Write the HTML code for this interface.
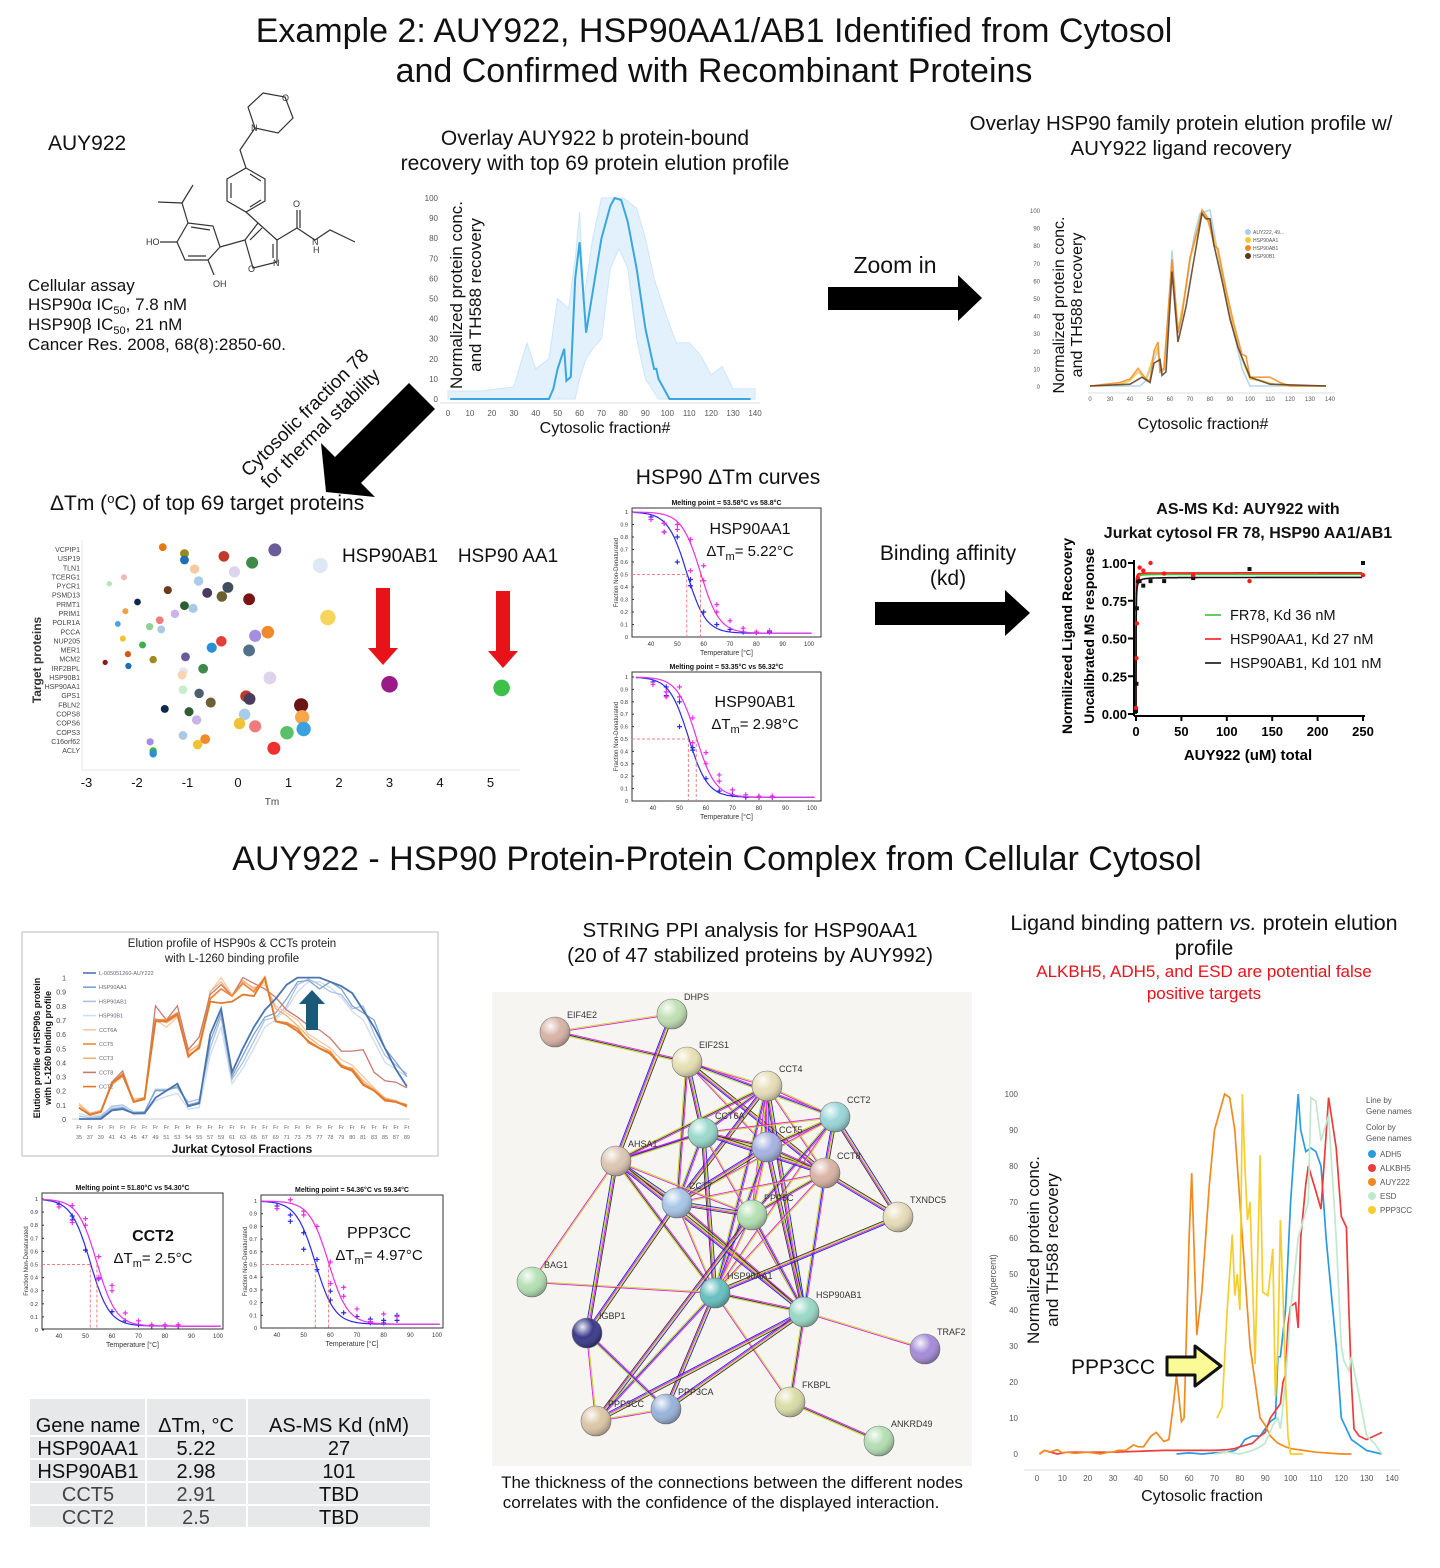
<!DOCTYPE html>
<html><head><meta charset="utf-8"><title>AUY922 HSP90 example</title>
<style>
html,body{margin:0;padding:0;background:#fff;}
svg{display:block;font-family:"Liberation Sans",sans-serif;}
</style></head>
<body>
<svg id="root" width="1440" height="1568" viewBox="0 0 1440 1568" xmlns="http://www.w3.org/2000/svg">
<defs>
<radialGradient id="ball" cx="35%" cy="30%" r="70%"><stop offset="0" stop-color="#fff" stop-opacity="0.9"/><stop offset="0.5" stop-color="#fff" stop-opacity="0"/><stop offset="1" stop-color="#000" stop-opacity="0.25"/></radialGradient>
</defs>
<g font-size="34" text-anchor="middle" fill="#111">
<text x="714" y="42">Example 2: AUY922, HSP90AA1/AB1 Identified from Cytosol</text>
<text x="714" y="82">and Confirmed with Recombinant Proteins</text>
</g>
<text x="717" y="870" font-size="34" text-anchor="middle" fill="#111">AUY922 - HSP90 Protein-Protein Complex from Cellular Cytosol</text>

<text x="48" y="150" font-size="21" fill="#111">AUY922</text>
<g stroke="#333" stroke-width="1.2" fill="none">
<polygon points="263,93 285,97 293,118 278,133 255,128 248,107"/>
<polyline points="255,128 240,150 246,168"/>
<polygon points="246,168 265,179 265,201 246,212 227,201 227,179"/>
<line x1="250" y1="174" x2="261" y2="181"/><line x1="231" y1="183" x2="231" y2="198"/><line x1="250" y1="207" x2="261" y2="200"/>
<polyline points="246,212 258,223 277,240 277,262 253,268 245,240 258,223"/>
<line x1="262" y1="228" x2="250" y2="240"/><line x1="273" y1="244" x2="273" y2="258"/>
<polyline points="277,240 297,228 315,240 330,230 355,242"/>
<line x1="297" y1="228" x2="297" y2="210"/><line x1="300" y1="228" x2="300" y2="210"/>
<polyline points="245,240 220,247 213,226 188,223 177,242 185,260 208,260 220,247"/>
<line x1="210" y1="230" x2="191" y2="227"/><line x1="188" y1="256" x2="206" y2="256"/>
<polyline points="188,223 182,203 158,202"/><line x1="182" y1="203" x2="193" y2="185"/>
<line x1="177" y1="242" x2="160" y2="242"/><line x1="208" y1="260" x2="214" y2="275"/>
</g>
<g font-size="9" fill="#333">
<text x="282" y="101">O</text><text x="251" y="131">N</text><text x="293" y="207">O</text><text x="312" y="245">N</text><text x="313" y="253">H</text>
<text x="273" y="266">N</text><text x="248" y="272">O</text><text x="146" y="245">HO</text><text x="213" y="287">OH</text>
</g>
<g font-size="17" fill="#111">
<text x="28" y="291">Cellular assay</text>
<text x="28" y="310">HSP90α IC<tspan font-size="11" dy="4">50</tspan><tspan dy="-4">, 7.8 nM</tspan></text>
<text x="28" y="330">HSP90β IC<tspan font-size="11" dy="4">50</tspan><tspan dy="-4">, 21 nM</tspan></text>
<text x="28" y="350">Cancer Res. 2008, 68(8):2850-60.</text>
</g>

<g font-size="21" text-anchor="middle" fill="#111">
<text x="595" y="145">Overlay AUY922 b protein-bound</text>
<text x="595" y="170">recovery with top 69 protein elution profile</text>
</g>
<g id="ov"></g>

<g font-size="20.5" text-anchor="middle" fill="#111">
<text x="1181" y="130">Overlay HSP90 family protein elution profile w/</text>
<text x="1181" y="155">AUY922 ligand recovery</text>
</g>
<g id="hv"></g>

<text x="895" y="273" font-size="23" text-anchor="middle" fill="#111">Zoom in</text>
<polygon points="828,287 958,287 958,275 982,298 958,321 958,310 828,310" fill="#000"/>
<polygon points="427,393 437,403 363,477 377,491 328,486 323,437 337,451 411,377" fill="#000" transform="translate(-2,6)"/>
<g transform="translate(312,420) rotate(-45)" font-size="19" text-anchor="middle" fill="#111">
<text x="0" y="-4">Cytosolic fraction 78</text><text x="0" y="18">for thermal stability</text>
</g>
<g font-size="21" text-anchor="middle" fill="#111">
<text x="948" y="560">Binding affinity</text><text x="948" y="585">(kd)</text>
</g>
<polygon points="875,602 1005,602 1005,590 1030,613 1005,636 1005,625 875,625" fill="#000"/>

<text x="50" y="510" font-size="21" fill="#111">ΔTm (<tspan font-size="13" dy="-7">o</tspan><tspan dy="7">C) of top 69 target proteins</tspan></text>
<g id="sc"></g>
<g font-size="19" fill="#111">
<text x="390" y="562" text-anchor="middle">HSP90AB1</text><text x="508" y="562" text-anchor="middle">HSP90 AA1</text>
</g>
<polygon points="376,588 390,588 390,648 398,648 383,665 368,648 376,648" fill="#e8121b"/>
<polygon points="496,591 510,591 510,651 518,651 503,668 488,651 496,651" fill="#e8121b"/>

<text x="728" y="484" font-size="21" text-anchor="middle" fill="#111">HSP90 ΔTm curves</text>
<g id="m1"></g>
<g id="m2"></g>
<g id="m3"></g>
<g id="m4"></g>

<g font-size="16" font-weight="bold" text-anchor="middle" fill="#111">
<text x="1248" y="514">AS-MS Kd:    AUY922 with</text><text x="1248" y="538">Jurkat cytosol FR 78, HSP90 AA1/AB1</text>
</g>
<g id="kd"></g>

<g id="el"></g>

<g font-size="20" fill="#111" text-anchor="middle">
<rect x="30" y="1399" width="400" height="128" fill="#e7e8ea"/>
<g stroke="#fff" stroke-width="2">
<line x1="146" y1="1399" x2="146" y2="1527"/><line x1="247" y1="1399" x2="247" y2="1527"/>
<line x1="30" y1="1436" x2="430" y2="1436"/><line x1="30" y1="1459" x2="430" y2="1459"/><line x1="30" y1="1482" x2="430" y2="1482"/><line x1="30" y1="1505" x2="430" y2="1505"/>
</g>
<text x="88" y="1432">Gene name</text><text x="196" y="1432">ΔTm, °C</text><text x="339" y="1432">AS-MS Kd (nM)</text>
<text x="88" y="1455">HSP90AA1</text><text x="196" y="1455">5.22</text><text x="339" y="1455">27</text>
<text x="88" y="1478">HSP90AB1</text><text x="196" y="1478">2.98</text><text x="339" y="1478">101</text>
<text x="88" y="1501" fill="#444">CCT5</text><text x="196" y="1501" fill="#444">2.91</text><text x="339" y="1501">TBD</text>
<text x="88" y="1524" fill="#444">CCT2</text><text x="196" y="1524" fill="#444">2.5</text><text x="339" y="1524">TBD</text>
</g>

<g font-size="20.5" text-anchor="middle" fill="#111">
<text x="750" y="937">STRING PPI analysis for HSP90AA1</text><text x="750" y="962">(20 of 47 stabilized proteins by AUY992)</text>
</g>
<rect x="492" y="992" width="480" height="474" fill="#f6f5f2"/>
<g id="net"></g>
<g font-size="17" text-anchor="middle" fill="#111">
<text x="732" y="1488">The thickness of the connections between the different nodes</text>
<text x="721" y="1508">correlates with the confidence of the displayed interaction.</text>
</g>

<g font-size="21.5" text-anchor="middle" fill="#111">
<text x="1204" y="930">Ligand binding pattern <tspan font-style="italic">vs.</tspan> protein elution</text><text x="1204" y="955">profile</text>
</g>
<g font-size="17" text-anchor="middle" fill="#e8121b">
<text x="1204" y="977">ALKBH5, ADH5, and ESD are potential false</text><text x="1204" y="999">positive targets</text>
</g>
<g id="lb"></g>
</svg>

<script>
// ---------- data ----------
const ovMainF=[1,46,48,50,53,54,56,58,60,63,67,70,74,76,79,82,86,90,94,95,96,98,101,138];
const ovMainV=[0,0,5,15,25,9,11,60,78,33,60,80,96,100,99,88,65,35,15,15,10,6,0,0];
const ovUpF=[0,15,30,36,40,46,50,55,58,60,62,66,70,80,86,90,94,100,104,110,115,120,125,130,140];
const ovUpV=[4,4,6,28,15,20,50,45,70,93,50,80,100,100,95,80,60,40,28,28,22,12,16,5,5];
const ovLoF=[140,96,90,86,82,78,74,70,66,63,60,58,0];
const ovLoV=[0,0,10,30,65,75,65,30,25,20,10,0,0];
const ovXTicks=[0,10,20,30,40,50,60,70,80,90,100,110,120,130,140];
const ovYTicks=[0,10,20,30,40,50,60,70,80,90,100];
const hvNames=["AUY222, 49...","HSP90AA1","HSP90AB1","HSP90B1"];
const hvColors=["#a9cfe6","#f3c93a","#f08b2c","#5a3a22"];
const hvF=[[20,45,48,52,54,56,58,61,64,68,72,75,80,84,90,96,100,138],
 [20,35,40,44,48,52,54,55,57,61,64,67,70,74,76,79,81,84,88,92,96,100,106,112,120,138],
 [20,35,40,44,48,50,52,54,55,57,61,64,66,70,74,76,78,80,82,84,88,92,96,98,100,104,110,115,120,138],
 [20,40,46,50,52,55,56,58,61,64,68,72,76,78,80,82,86,90,94,100,110,138]];
const hvV=[[0,0,3,15,20,8,10,77,30,55,85,98,100,75,40,10,0,0],
 [0,1,3,8,4,18,22,8,10,70,32,50,72,88,98,96,88,76,52,32,15,4,3,1,0,0],
 [0,2,4,10,4,3,20,25,8,10,72,30,40,73,90,100,97,90,80,78,55,35,18,17,5,5,5,2,0,0],
 [0,1,5,2,13,15,6,8,65,25,45,72,98,95,95,80,60,38,22,5,1,0]];
const hvXTicks=["0","30","40","50","60","70","80","90","100","110","120","130","140"];
const hvXTickVals=[20,30,40,50,60,70,80,90,100,110,120,130,140];
const scLabels=["VCPIP1","USP19","TLN1","TCERG1","PYCR1","PSMD13","PRMT1","PRIM1","POLR1A","PCCA","NUP205","MER1","MCM2","IRF2BPL","HSP90B1","HSP90AA1","GPS1","FBLN2","COPS8","COPS6","COPS3","C16orf62","ACLY"];
const scTm=[-1.49,-1.06,-1.06,0.73,-0.28,0.28,1.63,-0.86,-0.07,-2.26,-0.78,-2.55,-1.39,-0.61,-0.2,-0.32,0.22,-1.99,-1.06,-0.89,-2.23,-1.25,1.78,-1.55,-2.38,-1.75,-1.52,0.59,0.34,-2.28,-0.33,-1.89,-0.52,0.22,-2.18,-1.68,-1.04,-2.63,-2.17,-0.69,-1.08,-1.11,0.63,-1.09,-0.77,0.16,0.23,-0.54,1.25,-1.45,-0.97,0.13,-0.82,1.27,0.03,0.34,0.97,1.3,-1.09,-0.65,-1.74,-0.8,0.71,-1.68,-1.68,3.0,5.22];
const scRow=[-0.2,0.5,1.2,0.1,0.8,1.5,1.8,2.2,2.5,3.1,3.5,3.8,4.5,4.8,4.2,5.2,5.5,5.8,6.2,6.5,6.8,7.1,7.5,7.8,8.2,8.5,8.8,9.1,9.5,9.8,10.1,10.5,10.8,11.1,11.5,12.1,11.8,12.4,12.8,13.1,13.4,13.8,14.1,15.4,15.8,16.1,16.4,16.8,17.1,17.5,17.8,18.1,18.7,18.4,19.1,19.4,20.1,19.7,20.4,20.8,21.1,21.4,21.8,22.1,22.4,14.8,15.2];
const scColors=["#e07b1a","#9a8a1c","#1f6fb5","#6a5b9a","#c0392b","#3f8a4a","#dde8f2","#f7c9a0","#ddd4ec","#f4b7b7","#a9cde8","#b9e3b9","#6b3a1c","#4b3b5e","#3e4e5e","#6b6030","#7a1414","#0d2a4a","#2f5e35","#a9c9e4","#f0a04b","#c9b4ea","#f5d55a","#ef7b7b","#4aa3e0","#8fd18f","#a9c9e4","#f08b2c","#a58ee0","#f1c232","#e0403a","#3cb04a","#2b8fd6","#53708a","#d35a1a","#a08a20","#6a5b9a","#8b1a1a","#1f6fb5","#3f8a4a","#e6e6f0","#f7d4b0","#ddd4ec","#c9ecc9","#4e5e6e","#c0392b","#4b3b5e","#6b6030","#6b1414","#0d2a4a","#2f5e35","#a9cde8","#c9b4ea","#f5a84b","#f1c232","#ef7b7b","#5cbf6a","#3aa0e0","#a9c9e4","#f08b2c","#a58ee0","#f1c232","#ef3030","#3cb04a","#2b8fd6","#9a1a8a","#3cc04a"];
const scXTicks=[-3,-2,-1,0,1,2,3,4,5];
const m1Blue=[[40,.96],[45,.91],[45,.84],[50,.8],[50,.6],[55,.46],[55,.41],[60,.2],[65,.1],[70,.06],[75,.04],[80,.035],[85,.04]];
const m1Mag=[[40,.94],[45,.91],[45,.84],[50,.9],[50,.86],[55,.78],[55,.53],[60,.57],[60,.45],[65,.26],[65,.2],[70,.13],[75,.07],[80,.04],[85,.05]];
const m2Blue=[[40,.96],[45,.92],[45,.85],[50,.8],[50,.6],[55,.43],[55,.41],[60,.18],[65,.08],[70,.05],[75,.03],[80,.03],[85,.03]];
const m2Mag=[[40,.94],[45,.88],[45,.84],[50,.92],[50,.84],[55,.67],[55,.47],[60,.39],[60,.3],[65,.21],[65,.16],[70,.09],[75,.05],[80,.04],[85,.04]];
const m3Blue=[[40,.96],[45,.87],[45,.84],[50,.61],[55,.39],[60,.14],[65,.07],[70,.04],[75,.03],[80,.03],[85,.03]];
const m3Mag=[[40,.94],[45,.95],[45,.82],[50,.85],[50,.8],[55,.56],[55,.4],[60,.34],[60,.3],[65,.13],[70,.07],[75,.04],[80,.04],[85,.04]];
const m4Blue=[[40,.96],[45,.89],[45,.84],[50,.75],[50,.62],[55,.54],[55,.46],[60,.29],[60,.22],[65,.12],[70,.09],[75,.07],[75,.04],[80,.06],[80,.04],[85,.1],[85,.06]];
const m4Mag=[[40,.94],[45,1.01],[50,.92],[50,.89],[55,.8],[60,.52],[60,.35],[65,.32],[65,.25],[70,.15],[75,.05],[80,.11],[85,.09]];
const meltTm=[[53.58,58.8],[53.35,56.32],[51.8,54.3],[54.36,59.34]];
const meltYTicks=[0,0.1,0.2,0.3,0.4,0.5,0.6,0.7,0.8,0.9,1];
const meltXTicks=[40,50,60,70,80,90,100];
const kdX=[0,0.5,1,2,4,8,16,31,63,125,250];
const kdRed=[0.04,0.37,0.6,0.9,0.97,0.95,1.0,0.93,0.92,0.88,0.92];
const kdBlack=[0.02,0.2,0.7,0.88,0.88,0.85,0.88,0.88,0.9,0.96,1.0];
const kdKdNM=[36,27,101];
const kdPlateau=[0.925,0.935,0.905];
const kdXTicks=[0,50,100,150,200,250];
const kdYTicks=[0,0.25,0.5,0.75,1.0];
const elFr=["35","37","39","41","43","45","47","49","51","53","54","55","57","59","61","63","65","67","69","71","73","75","77","78","79","80","81","83","85","87","89"];
const elNames=["L-005051260-AUY222","HSP90AA1","HSP90AB1","HSP90B1","CCT6A","CCT5","CCT3","CCT8","CCT2"];
const elColors=["#4a74ad","#7fa3cf","#a9c3e3","#cddcef","#f6c9a4","#ed8a3a","#f3b27a","#c87a70","#e07a2a"];
const elV=[
[0,0,0,.06,.07,.04,.04,.15,.2,.25,.09,.11,.6,.78,.33,.5,.65,.77,.85,.95,1,1,1,.97,.94,.89,.77,.65,.5,.35,.23],
[0,0,.01,.07,.08,.04,.05,.2,.2,.23,.1,.12,.55,.75,.3,.45,.6,.72,.75,.85,.97,.98,.92,.97,.92,.8,.75,.7,.5,.4,.3],
[.02,.01,.02,.09,.1,.05,.05,.21,.21,.22,.12,.14,.5,.72,.28,.4,.55,.7,.72,.8,.95,.99,.95,.9,.88,.78,.8,.6,.45,.38,.32],
[.04,.02,.03,.08,.09,.03,.04,.13,.16,.18,.07,.08,.45,.65,.25,.36,.5,.65,.7,.78,.9,.97,.97,.93,.86,.76,.7,.55,.4,.35,.3],
[.11,.04,.06,.24,.3,.13,.14,.7,.65,.72,.48,.52,.9,1,.88,.97,.93,.95,.8,.75,.7,.6,.55,.5,.42,.38,.3,.22,.15,.13,.08],
[.08,.03,.05,.25,.32,.12,.15,.7,.7,.75,.45,.5,.85,.92,.87,.96,.9,1,.69,.68,.64,.54,.5,.47,.38,.35,.25,.2,.14,.12,.1],
[.1,.04,.06,.26,.3,.14,.15,.71,.68,.73,.47,.53,.9,.97,.87,.98,.92,.97,.78,.73,.66,.58,.52,.48,.37,.36,.27,.21,.14,.13,.09],
[.08,.03,.05,.26,.34,.12,.15,.8,.7,.8,.49,.58,.88,.95,.87,1,.96,.92,.86,.77,.72,.66,.63,.57,.48,.48,.49,.33,.27,.26,.22],
[.08,.03,.05,.25,.31,.12,.14,.69,.69,.74,.44,.51,.83,.82,.83,.88,.87,1,.69,.67,.62,.55,.5,.46,.37,.34,.24,.2,.13,.12,.09]];
const elYTicks=[0,0.1,0.2,0.3,0.4,0.5,0.6,0.7,0.8,0.9,1];
const lbNames=["ADH5","ALKBH5","AUY222","ESD","PPP3CC"];
const lbColors=["#2a9be0","#ef3b3b","#f28a1e","#bfe8cf","#f6cd2e"];
const lbF=[
[55,60,65,70,75,78,80,82,85,88,90,92,94,95,96,98,100,102,103,104,106,108,110,112,114,118,120,122,124,126,130,136],
[1,3,8,12,20,30,50,60,70,75,78,80,85,88,90,92,94,96,97,98,99,100,102,103,104,106,107,110,112,115,118,120,122,123,124,125,127,130,136],
[1,3,5,8,10,12,15,20,25,28,30,32,35,38,40,42,45,47,50,52,54,55,57,58,60,61,63,65,68,70,74,76,78,80,82,84,86,88,90,92,95,98,100,105,110,120,124],
[70,75,80,85,88,90,93,95,96,98,100,103,105,107,108,110,112,115,118,120,121,123,124,126,130,133,136],
[71,73,75,77,78,79,80,81,82,83,84,86,88,89,91,92,93,94,95,96,97,98,99,100,102,105]];
const lbV=[
[0,0.3,0,0.3,0.5,1,2,4,5,5,7,9,10,27,27,40,70,90,100,90,84,85,84,80,60,30,10,7,4,3,1,0],
[0,1,0,0.5,0.5,0.5,1,1,1,1.2,1.5,2,3,5,6,10,12,14,20,22,36,41,42,35,60,75,80,73,68,99,85,66,63,40,20,7,5,4,6,1,0.5,1,2,1,1.5],
[0,1,0.5,1.2,0.3,0.5,0.2,0.5,0,0.5,0.5,1,1,2.5,2,2,5,6,3.5,4,15,22,9,10,60,78,33,45,75,90,100,99,90,70,50,30,20,10,8,5,3,2,1.5,1,0.5,0,0],
[0,0.5,0,1,2,3,8,10,7,20,40,60,65,70,99,98,87,94,60,30,26,23,27,20,5,3,0],
[10,13,40,61,44,50,40,100,80,65,70,25,83,45,44,50,57,16,30,65,44,20,5,0,0,0]];
const lbXTicks=[0,10,20,30,40,50,60,70,80,90,100,110,120,130,140];
const lbYTicks=[0,10,20,30,40,50,60,70,80,90,100];
const netNames=["EIF4E2","DHPS","EIF2S1","CCT4","CCT2","CCT6A","CCT5","CCT8","AHSA1","CCT7","PPP5C","TXNDC5","BAG1","HSP90AA1","HSP90AB1","IGBP1","TRAF2","PPP3CC","PPP3CA","FKBPL","ANKRD49"];
const netColors=["#d9b3a6","#bfe0b3","#e6e0b3","#e6deb8","#99d6d9","#99d9cc","#a6b3e0","#d9b3a6","#dcc6b3","#a6c6e6","#b3e0b3","#e6dcb8","#b3e0b3","#66bfbf","#99d9c6","#3a3a8a","#a68cd9","#dcc6a6","#99b3d9","#d9dca6","#b3deb3"];
const netPos=[[555,1032],[672,1014],[687,1062],[767,1086],[835,1117],[703,1133],[767,1147],[825,1173],[616,1161],[677,1203],[752,1215],[898,1217],[532,1282],[715,1293],[804,1312],[587,1333],[925,1349],[596,1421],[666,1409],[790,1402],[879,1441]];
const netEdges=[[0,1],[0,2],[1,8],[2,3],[2,4],[2,5],[2,6],[2,9],[2,7],[3,4],[3,5],[3,6],[3,7],[3,8],[3,9],[3,10],[3,13],[3,14],[4,5],[4,6],[4,7],[4,9],[4,10],[4,11],[4,13],[5,6],[5,7],[5,8],[5,9],[5,13],[5,14],[6,7],[6,9],[6,10],[6,13],[6,14],[7,9],[7,10],[7,11],[7,13],[7,14],[8,9],[8,10],[8,13],[8,14],[8,12],[8,5],[9,10],[9,13],[9,14],[9,15],[10,13],[10,14],[10,17],[12,13],[13,14],[13,11],[13,19],[13,17],[13,18],[14,16],[14,19],[14,17],[15,17],[15,18],[15,8],[17,18],[19,20],[14,18]];
const netEdgeColors=["#c6d61e","#e01ee0","#333","#c6d61e","#e01ee0","#1e1ee0"];

// ---------- helpers ----------
const NS="http://www.w3.org/2000/svg";
function mk(parent,tag,attrs){const e=document.createElementNS(NS,tag);for(const k in attrs)e.setAttribute(k,attrs[k]);parent.appendChild(e);return e;}
function lin(d0,d1,r0,r1){return v=>r0+(v-d0)*(r1-r0)/(d1-d0);}
function pathD(xs,ys,sx,sy){return xs.map((x,i)=>(i?"L":"M")+sx(x).toFixed(1)+","+sy(ys[i]).toFixed(1)).join("");}
function txt(parent,x,y,s,size,fill,anchor,extra){const t=mk(parent,"text",Object.assign({x:x,y:y,"font-size":size,fill:fill||"#333","text-anchor":anchor||"middle"},extra||{}));t.textContent=s;return t;}

// top-middle overlay
(function(){
 const g=document.getElementById("ov");
 const sx=lin(0,140,448,755), sy=lin(0,100,399,198);
 ovYTicks.forEach(v=>txt(g,438,sy(v)+3,v,8,"#555","end"));
 ovXTicks.forEach(v=>txt(g,sx(v),416,v,8,"#555"));
 mk(g,"line",{x1:440,y1:403,x2:760,y2:403,stroke:"#ddd"});
 const band=mk(g,"path",{d:pathD(ovUpF.concat(ovLoF),ovUpV.concat(ovLoV),sx,sy)+"Z",fill:"#e2f1fb",stroke:"#cde6f7","stroke-width":1});
 
 
 const p=mk(g,"path",{d:pathD(ovMainF,ovMainV,sx,sy),fill:"none",stroke:"#3aa6df","stroke-width":2});
 
 
 txt(g,0,0,"Normalized protein conc.",17,"#111","middle",{transform:"translate(462,295) rotate(-90)"});
 txt(g,0,0,"and TH588 recovery",17,"#111","middle",{transform:"translate(481,295) rotate(-90)"});
 txt(g,605,433,"Cytosolic fraction#",16,"#111");
})();

// top-right
(function(){
 const g=document.getElementById("hv");
 const sx=lin(20,140,1090,1330), sy=lin(0,100,386,210);
 [0,10,20,30,40,50,60,70,80,90,100].forEach(v=>txt(g,1040,sy(v)+3,v,6,"#555","end"));
 hvXTickVals.forEach((v,i)=>txt(g,sx(v),401,hvXTicks[i],6,"#555"));
 mk(g,"line",{x1:1088,y1:393,x2:1335,y2:393,stroke:"#ddd"});
 hvF.forEach((f,i)=>{
  const p=mk(g,"path",{d:pathD(f,hvV[i],sx,sy),fill:"none",stroke:hvColors[i],"stroke-width":1.6,opacity:0.85});
  
  
  mk(g,"circle",{cx:1248,cy:232+i*8,r:3,fill:hvColors[i]});
  txt(g,1253,234+i*8,hvNames[i],5,"#555","start");
 });
 txt(g,0,0,"Normalized protein conc.",16,"#111","middle",{transform:"translate(1064,305) rotate(-90)"});
 txt(g,0,0,"and TH588 recovery",16,"#111","middle",{transform:"translate(1082,305) rotate(-90)"});
 txt(g,1203,429,"Cytosolic fraction#",16,"#111");
})();

// scatter
(function(){
 const g=document.getElementById("sc");
 const sx=lin(0,1,238,288.5), sy=r=>549+r*9.14;
 scLabels.forEach((l,i)=>txt(g,80,sy(i)+3,l,7,"#444","end"));
 mk(g,"line",{x1:82,y1:540,x2:82,y2:770,stroke:"#e5e5e5"});
 mk(g,"line",{x1:82,y1:770,x2:520,y2:770,stroke:"#e5e5e5"});
 scXTicks.forEach(v=>txt(g,sx(v),787,v,13,"#111"));
 txt(g,272,805,"Tm",10,"#444");
 txt(g,0,0,"Target proteins",12,"#333","middle",{transform:"translate(41,660) rotate(-90)","font-weight":"bold"});
 scTm.forEach((t,i)=>{
  const r=Math.max(2,2.2+Math.min(t+3,5.3)*1.15);
  const c=mk(g,"circle",{cx:sx(t),cy:sy(scRow[i]),r:r,fill:scColors[i%scColors.length]});
  
  
 });
})();

// melting plots
function melt(id,box,blue,mag,tm,title,label,dtm,lx,ly,bold){
 const g=document.getElementById(id);
 const [x0,y0,x1,y1,t40,t100,yone,yzero]=box;
 const sx=lin(40,100,t40,t100), sy=lin(0,1,yzero,yone);
 mk(g,"rect",{x:x0,y:y0,width:x1-x0,height:y1-y0,fill:"#fff",stroke:"#333","stroke-width":1});
 txt(g,(x0+x1)/2,y0-3,title,7,"#111","middle",{"font-weight":"bold"});
 meltYTicks.forEach(v=>{txt(g,x0-4,sy(v)+2,String(v),5.5,"#333","end");mk(g,"line",{x1:x0,y1:sy(v),x2:x0+2,y2:sy(v),stroke:"#333"});});
 meltXTicks.forEach(v=>{if(sx(v)<x1+2)txt(g,sx(v),y1+9,v,6,"#333");});
 txt(g,(x0+x1)/2,y1+18,"Temperature [°C]",7,"#333");
 txt(g,0,0,"Fraction Non-Denaturated",6,"#333","middle",{transform:"translate("+(x0-14)+","+((y0+y1)/2)+") rotate(-90)"});
 const b=0.03;
 [[tm[0],"#2a2ae6",blue],[tm[1],"#ee2ee8",mag]].forEach(([T,col,pts])=>{
  const xs=[],ys=[];for(let t=33.5;t<=101;t+=0.5){if(sx(t)>=x0&&sx(t)<=x1){xs.push(t);ys.push(b+(1-b)/(1+Math.exp((t-T)/3.6)));}}
  const p=mk(g,"path",{d:pathD(xs,ys,sx,sy),fill:"none",stroke:col,"stroke-width":1.2});
  
  
  pts.forEach(([t,v])=>{mk(g,"path",{d:"M"+(sx(t)-2.5)+","+sy(v)+"h5M"+sx(t)+","+(sy(v)-2.5)+"v5",stroke:col,"stroke-width":1.2});});
  mk(g,"line",{x1:sx(T),y1:sy(0.5),x2:sx(T),y2:y1,stroke:"#f08080","stroke-dasharray":"3,2"});
 });
 mk(g,"line",{x1:x0,y1:sy(0.5),x2:sx(tm[0]),y2:sy(0.5),stroke:"#f08080","stroke-dasharray":"3,2"});
 txt(g,lx,ly,label,16,"#111","middle",bold?{"font-weight":"bold"}:{});
 const t=mk(g,"text",{x:lx,y:ly+22,"font-size":15,fill:"#111","text-anchor":"middle"});
 t.textContent="ΔT";
 const s1=mk(t,"tspan",{"font-size":11,dy:4}); s1.textContent="m";
 const s2=mk(t,"tspan",{dy:-4}); s2.textContent="= "+dtm+"°C";
}
melt("m1",[632,508,821,637,651,809,512,637],m1Blue,m1Mag,meltTm[0],"Melting point = 53.58°C vs 58.8°C","HSP90AA1","5.22",750,534,false);
melt("m2",[632,672,821,801,653,812,677,801],m2Blue,m2Mag,meltTm[1],"Melting point = 53.35°C vs 56.32°C","HSP90AB1","2.98",755,707,false);
melt("m3",[42,1193,223,1329,59,218,1199,1330],m3Blue,m3Mag,meltTm[2],"Melting point = 51.80°C vs 54.30°C","CCT2","2.5",153,1241,true);
melt("m4",[261,1195,443,1328,277,437,1201,1328],m4Blue,m4Mag,meltTm[3],"Melting point = 54.36°C vs 59.34°C","PPP3CC","4.97",379,1238,false);

// Kd chart
(function(){
 const g=document.getElementById("kd");
 const sx=lin(0,250,1136,1363), sy=lin(0,1,714,563);
 mk(g,"line",{x1:1134,y1:560,x2:1134,y2:716,stroke:"#000","stroke-width":2});
 mk(g,"line",{x1:1134,y1:716,x2:1365,y2:716,stroke:"#000","stroke-width":2});
 kdYTicks.forEach(v=>{mk(g,"line",{x1:1128,y1:sy(v),x2:1134,y2:sy(v),stroke:"#000","stroke-width":2});txt(g,1127,sy(v)+5,v.toFixed(2),13,"#000","end",{"font-weight":"bold"});});
 kdXTicks.forEach(v=>{mk(g,"line",{x1:sx(v),y1:716,x2:sx(v),y2:721,stroke:"#000","stroke-width":2});txt(g,sx(v),736,v,13,"#000","middle",{"font-weight":"bold"});});
 txt(g,1248,760,"AUY922  (uM) total",15,"#000","middle",{"font-weight":"bold"});
 txt(g,0,0,"Normilizeed Ligand Recovery",14,"#000","middle",{transform:"translate(1072,636) rotate(-90)","font-weight":"bold"});
 txt(g,0,0,"Uncalibrated MS response",14,"#000","middle",{transform:"translate(1094,636) rotate(-90)","font-weight":"bold"});
 const cols=["#3cc03c","#ff1a1a","#111"];
 kdKdNM.forEach((kd,i)=>{
  const xs=[],ys=[];for(let c=0;c<=250;c+=(c<5?0.02:1)){xs.push(c);ys.push(kdPlateau[i]*c/(c+kd/1000));}
  const p=mk(g,"path",{d:pathD(xs,ys,sx,sy),fill:"none",stroke:cols[i],"stroke-width":1.6});
  
  
 });
 kdX.forEach((x,i)=>{
  mk(g,"rect",{x:sx(x)-2,y:sy(kdBlack[i])-2,width:4,height:4,fill:"#111"});
  mk(g,"circle",{cx:sx(x),cy:sy(kdRed[i]),r:2.2,fill:"#ff1a1a"});
 });
 const leg=[["FR78, Kd 36 nM",cols[0]],["HSP90AA1, Kd 27 nM",cols[1]],["HSP90AB1, Kd 101 nM",cols[2]]];
 leg.forEach(([s,c],i)=>{mk(g,"line",{x1:1205,y1:615+i*24,x2:1221,y2:615+i*24,stroke:c,"stroke-width":1.6});txt(g,1230,620+i*24,s,14.5,"#111","start");});
})();

// bottom-left elution
(function(){
 const g=document.getElementById("el");
 mk(g,"rect",{x:22,y:932,width:416,height:224,fill:"#fff",stroke:"#bbb"});
 txt(g,232,947,"Elution profile of HSP90s & CCTs protein",11.5,"#222");
 txt(g,232,962,"with L-1260 binding profile",11.5,"#222");
 const sx=i=>79+i*10.93, sy=lin(0,1,1119,977.6);
 elYTicks.forEach(v=>txt(g,66,sy(v)+3,v,7,"#444","end"));
 mk(g,"line",{x1:72,y1:1119,x2:410,y2:1119,stroke:"#ccc"});
 elFr.forEach((f,i)=>{txt(g,sx(i),1129,"Fr",5.5,"#666");txt(g,sx(i),1139,f,5.5,"#666");});
 txt(g,242,1153,"Jurkat Cytosol Fractions",12,"#111","middle",{"font-weight":"bold"});
 txt(g,0,0,"Elution profile of HSP90s protein",9,"#111","middle",{transform:"translate(40,1048) rotate(-90)","font-weight":"bold"});
 txt(g,0,0,"with L-1260 binding profile",9,"#111","middle",{transform:"translate(51,1048) rotate(-90)","font-weight":"bold"});
 const order=[3,2,1,4,6,7,5,8,0];
 order.forEach(k=>{
  const p=mk(g,"path",{d:pathD(elV[k].map((_,i)=>i),elV[k],sx,sy),fill:"none",stroke:elColors[k],"stroke-width":(k==0||k==5||k==8)?1.8:1.3});
  
  
 });
 elNames.forEach((n,i)=>{mk(g,"line",{x1:83,y1:973+i*14.2,x2:96,y2:973+i*14.2,stroke:elColors[i],"stroke-width":1.6});txt(g,99,975+i*14.2,n,5.5,"#667","start");});
 mk(g,"polygon",{points:"306,1030 318,1030 318,1004 325,1004 312,990 299,1004 306,1004",fill:"#1a5a78"});
})();

// STRING network
(function(){
 const g=document.getElementById("net");
 netEdges.forEach(([a,b],i)=>{
  const [x1,y1]=netPos[a],[x2,y2]=netPos[b];
  const dx=x2-x1,dy=y2-y1,L=Math.hypot(dx,dy),nx=-dy/L,ny=dx/L;
  const n=2+(i%3);
  for(let k=0;k<n;k++){
   const o=(k-(n-1)/2)*1.2;
   mk(g,"line",{x1:x1+nx*o,y1:y1+ny*o,x2:x2+nx*o,y2:y2+ny*o,stroke:netEdgeColors[(i+k)%netEdgeColors.length],"stroke-width":0.9});
  }
 });
 netNames.forEach((n,i)=>{
  const [x,y]=netPos[i];
  const c=mk(g,"circle",{cx:x,cy:y,r:15,fill:netColors[i],stroke:"#777","stroke-width":0.6});
  
  
  mk(g,"circle",{cx:x,cy:y,r:15,fill:"url(#ball)"});
  txt(g,x+12,y-14,n,9,"#333","start");
 });
})();

// bottom-right
(function(){
 const g=document.getElementById("lb");
 const sx=lin(0,140,1037,1392), sy=lin(0,100,1454,1094);
 lbYTicks.forEach(v=>txt(g,1018,sy(v)+3,v,8,"#555","end"));
 lbXTicks.forEach(v=>txt(g,sx(v),1481,v,8,"#555"));
 mk(g,"line",{x1:1024,y1:1470,x2:1400,y2:1470,stroke:"#ddd"});
 lbF.forEach((f,i)=>{
  const p=mk(g,"path",{d:pathD(f,lbV[i],sx,sy),fill:"none",stroke:lbColors[i],"stroke-width":1.7});
  
  
 });
 txt(g,1366,1103,"Line by",8,"#555","start");txt(g,1366,1114,"Gene names",8,"#555","start");
 txt(g,1366,1130,"Color by",8,"#555","start");txt(g,1366,1141,"Gene names",8,"#555","start");
 lbNames.forEach((n,i)=>{mk(g,"circle",{cx:1372,cy:1154+i*14,r:4,fill:lbColors[i]});txt(g,1380,1157+i*14,n,8,"#555","start");});
 txt(g,0,0,"Avg(percent)",9,"#555","middle",{transform:"translate(996,1280) rotate(-90)"});
 txt(g,0,0,"Normalized protein conc.",17,"#111","middle",{transform:"translate(1039,1250) rotate(-90)"});
 txt(g,0,0,"and TH588 recovery",17,"#111","middle",{transform:"translate(1058,1250) rotate(-90)"});
 txt(g,1202,1501,"Cytosolic fraction",16,"#111");
 txt(g,1113,1374,"PPP3CC",21,"#111");
 mk(g,"polygon",{points:"1167,1357 1195,1357 1195,1346 1221,1366 1195,1386 1195,1375 1167,1375",fill:"#fafa96",stroke:"#111","stroke-width":3,"stroke-linejoin":"round"});
})();
</script>
</body></html>
